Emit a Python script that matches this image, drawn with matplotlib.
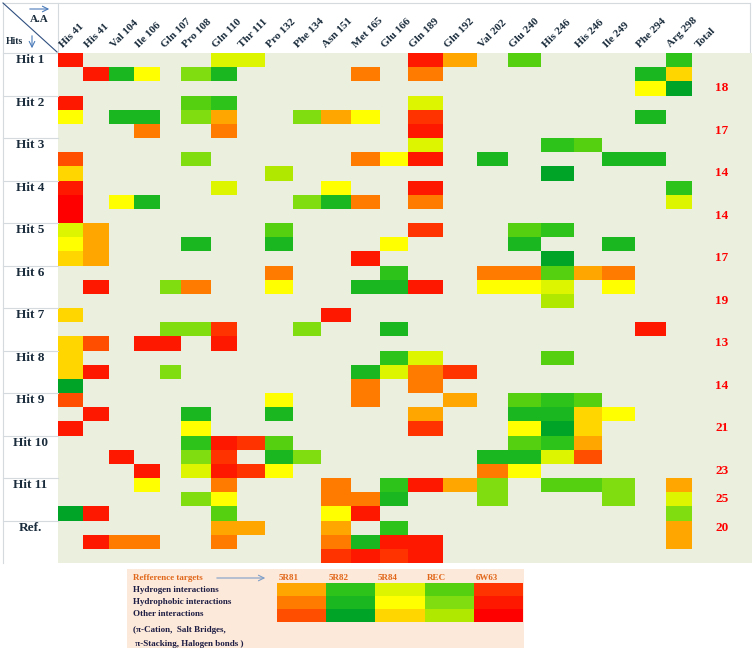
import numpy as np
import matplotlib
matplotlib.use('Agg')
import matplotlib.pyplot as plt
from matplotlib.colors import ListedColormap, BoundaryNorm
from matplotlib.patches import Rectangle

plt.rcParams['font.family'] = ['Liberation Serif', 'DejaVu Serif']

# ---- data ----
residues = ["His 41", "His 41", "Val 104", "Ile 106", "Gln 107", "Pro 108", "Gln 110",
            "Thr 111", "Pro 132", "Phe 134", "Asn 151", "Met 165", "Glu 166", "Gln 189",
            "Gln 192", "Val 202", "Glu 240", "His 246", "His 246", "Ile 249", "Phe 294",
            "Arg 298"]
hits = ["Hit 1", "Hit 2", "Hit 3", "Hit 4", "Hit 5", "Hit 6", "Hit 7", "Hit 8",
        "Hit 9", "Hit 10", "Hit 11", "Ref."]
totals = [18, 17, 14, 14, 17, 19, 13, 14, 21, 23, 25, 20]
total_rows = [2, 5, 8, 11, 14, 17, 20, 23, 26, 29, 31, 33]

targets = ["5R81", "5R82", "5R84", "REC", "6W63"]
interactions = ["Hydrogen interactions", "Hydrophobic interactions", "Other interactions"]

# cell code = target * 3 + interaction type  (a = 5R81 hydrogen ... o = 6W63 other)
codes = "abcdefghijklmno"
code_colors = ["#FFA600", "#FF7B00", "#FF4E00",
               "#2EC31A", "#1BB721", "#00A528",
               "#DEF500", "#FFFF00", "#FFD600",
               "#55D010", "#80DD0F", "#B0E800",
               "#FF3300", "#FF1800", "#FF0000"]

# 3 rows per hit, one char per residue, '.' = no interaction
rows = [
    "n.....gg.....na.j....d",
    ".neh.ke....b.b......ei",
    "....................hf",
    "n....jd......g........",
    "h.ee.ka..kah.m......e.",
    "...b..b......n........",
    ".............g...dj...",
    "c....k.....bhn.e...ee.",
    "i.......l........f....",
    "n.....g...h..n.......d",
    "o.he.....keb.b.......g",
    "o.....................",
    "ga......j....m..jd....",
    "ha...e..e...h...e..e..",
    "ia.........n.....f....",
    "........b...d..bbjab..",
    ".n..kb..h..een.hhg.h..",
    ".................l....",
    "i.........n...........",
    "....kkm..k..e.......n.",
    "ic.nn.n...............",
    "i...........dg...j....",
    "in..k......egbm.......",
    "f..........b.b........",
    "c.......h..b..a.jdj...",
    ".n...e..e....a..eeih..",
    "n....h.......m..hfi...",
    ".....dnmj.......jda...",
    "..n..km.ek.....eegc...",
    "...n.gnmh......bh.....",
    "...h..b...b.dnak.jjk.a",
    ".....kh...bbe..k...k.g",
    "fn....j...hn.........k",
    "......aa..a.d........a",
    ".nbb..b...benn.......a",
    "..........mnmn........",
]

# ---- layout (pixels) ----
W, H = 752, 651
col_widths = [25, 26, 25, 26, 21, 30, 26, 28, 28, 28, 30, 29, 28, 35, 34, 31, 33, 33,
              28, 33, 31, 26]
x0, y_top, y_bot = 58, 53, 563
navy = "#1b2d3d"
beige = "#EBEFDD"

grid = np.full((len(rows), len(residues)), np.nan)
for r, line in enumerate(rows):
    assert len(line) == len(residues)
    for c, ch in enumerate(line):
        if ch != ".":
            grid[r, c] = codes.index(ch)
grid = np.ma.masked_invalid(grid)

cmap = ListedColormap(code_colors)
norm = BoundaryNorm(np.arange(-0.5, len(code_colors) + 0.5, 1), len(code_colors))

fig = plt.figure(figsize=(W / 100, H / 100), dpi=100)

# overlay in pixel coordinates for frame / decorations
ax0 = fig.add_axes([0, 0, 1, 1])
ax0.set_xlim(0, W)
ax0.set_ylim(H, 0)
ax0.axis('off')

line_c = "#d5dade"
ax0.plot([3, 750], [3, 3], color=line_c, lw=0.8)
ax0.plot([3, 3], [3, y_bot], color=line_c, lw=0.8)
ax0.plot([750, 750], [3, y_top], color=line_c, lw=0.8)
ax0.plot([x0, x0], [3, y_top], color=line_c, lw=0.8)
ax0.plot([3, x0], [y_top, y_top], color=line_c, lw=0.8)
ax0.plot([3, 57], [3, 52], color="#2f4f7f", lw=0.8)
ax0.text(39, 19, "A.A", ha='center', va='center', fontsize=8, fontweight='bold', color=navy)
ax0.annotate("", xy=(52, 9), xytext=(27, 9),
             arrowprops=dict(arrowstyle='->', color="#4a7ab8", lw=0.8))
ax0.text(14, 42, "Hits", ha='center', va='center', fontsize=7, fontweight='bold', color=navy)
ax0.annotate("", xy=(32, 51), xytext=(32, 33),
             arrowprops=dict(arrowstyle='->', color="#4a7ab8", lw=0.8))

# main heatmap
ax = fig.add_axes([x0 / W, 1 - y_bot / H, (W - x0) / W, (y_bot - y_top) / H])
ax.set_facecolor(beige)
xe = np.concatenate([[0], np.cumsum(col_widths)])
ye = np.arange(len(rows) + 1)
ax.pcolormesh(xe, ye, grid, cmap=cmap, norm=norm)
ax.set_xlim(0, W - x0)
ax.set_ylim(len(rows), 0)
ax.set_xticks([])
ax.set_yticks([])
for s in ax.spines.values():
    s.set_visible(False)

for i, name in enumerate(residues):
    ax.text(xe[i] + 6, -0.25, name, rotation=45, rotation_mode='anchor', ha='left',
            va='bottom', fontsize=8, fontweight='bold', color=navy, clip_on=False)
ax.text(642, -0.25, "Total", rotation=45, rotation_mode='anchor', ha='left',
        va='bottom', fontsize=8, fontweight='bold', color=navy, clip_on=False)

for g, label in enumerate(hits):
    ax.text(-28, 3 * g + 0.5, label, ha='center', va='center', fontsize=9.5,
            fontweight='bold', color=navy, clip_on=False)
    if g > 0:
        ax.plot([-55, 0], [3 * g, 3 * g], color=line_c, lw=0.8, clip_on=False)

for t, r in zip(totals, total_rows):
    ax.text(664, r + 0.5, str(t), ha='center', va='center', fontsize=9.5,
            fontweight='bold', color="#FF0000")

# legend box
ax0.add_patch(Rectangle((127, 569), 397, 79, facecolor="#FDE9D9", edgecolor='none'))
lx0, lx1, ly0, ly1 = 277, 523, 583, 622
orange_t = "#E0661A"
ax0.text(133, 578, "Refference targets", ha='left', va='center', fontsize=6.5,
         fontweight='bold', color=orange_t)
ax0.annotate("", xy=(268, 578), xytext=(214, 578),
             arrowprops=dict(arrowstyle='->', color="#7f9fc8", lw=0.8))
step = (lx1 - lx0) / len(targets)
for i, t in enumerate(targets):
    ax0.text(lx0 + i * step + 2, 578, t, ha='left', va='center', fontsize=6.5,
             fontweight='bold', color=orange_t)
for k, lab in enumerate(interactions):
    ax0.text(133, 589.5 + k * 12.5, lab, ha='left', va='center', fontsize=6.5,
             fontweight='bold', color="#1d1d45")
ax0.text(133, 630, "(π-Cation,  Salt Bridges,", ha='left', va='center', fontsize=6.5,
         fontweight='bold', color="#1d1d45")
ax0.text(133, 644, " π-Stacking, Halogen bonds )", ha='left', va='center', fontsize=6.5,
         fontweight='bold', color="#1d1d45")

leg = np.array([[codes.index(codes[t * 3 + k]) for t in range(len(targets))]
                for k in range(len(interactions))])
axl = fig.add_axes([lx0 / W, 1 - ly1 / H, (lx1 - lx0) / W, (ly1 - ly0) / H])
axl.pcolormesh(leg, cmap=cmap, norm=norm)
axl.set_ylim(len(interactions), 0)
axl.axis('off')

fig.savefig("out.png", dpi=100)
